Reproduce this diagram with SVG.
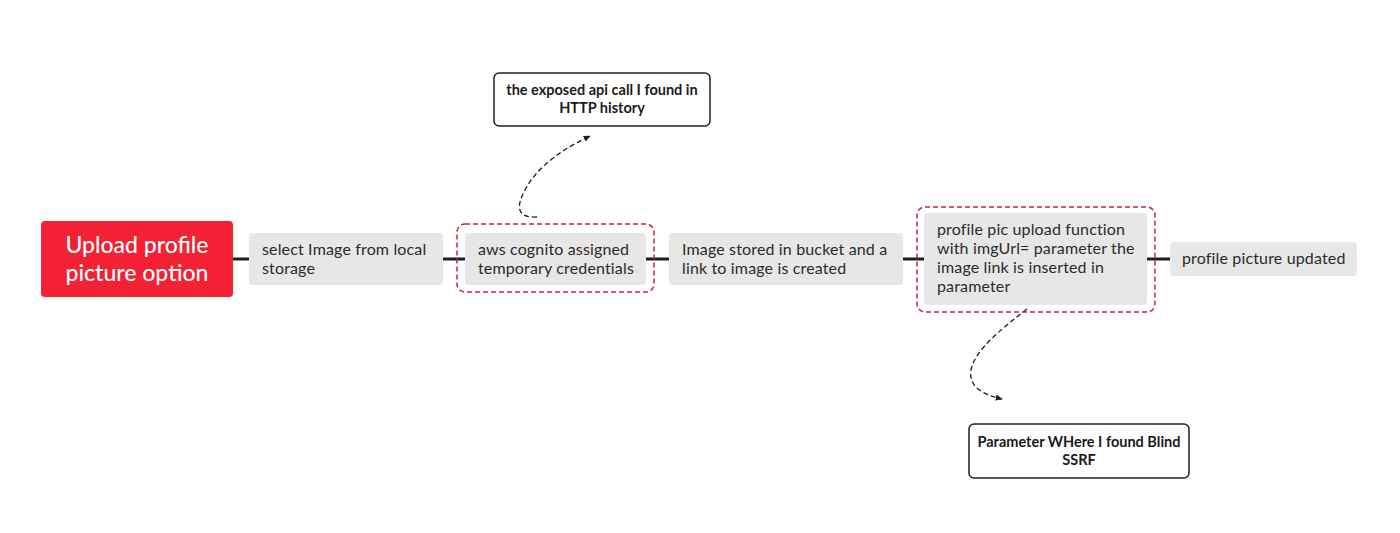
<svg xmlns="http://www.w3.org/2000/svg" width="1400" height="533" viewBox="0 0 1400 533">
<defs>
<style>
.gray{fill:#e7e7e7;}
.t{font-family:Lato,"Open Sans","Liberation Sans",sans-serif;font-size:16px;letter-spacing:0.15px;fill:#2b2b2b;}
.big{font-family:Lato,"Open Sans","Liberation Sans",sans-serif;font-size:23px;fill:#ffffff;font-weight:500;}
.call{font-family:Lato,"Open Sans","Liberation Sans",sans-serif;font-size:14.5px;fill:#1a1a1a;font-weight:bold;}
.dash{fill:none;stroke:#cc2336;stroke-width:1.5;stroke-dasharray:5 3;}
.cbox{fill:#ffffff;stroke:#222;stroke-width:1.5;}
.conn{stroke:#1e1e1e;stroke-width:3;fill:none;}
.arr{stroke:#1e1e1e;stroke-width:1.3;fill:none;stroke-dasharray:5 3;}
</style>
<marker id="ah" viewBox="0 0 10 10" refX="8" refY="5" markerWidth="6" markerHeight="6" orient="auto">
<path d="M0,1 L9,5 L0,9 Z" fill="#1e1e1e"/>
</marker>
</defs>
<rect width="1400" height="533" fill="#ffffff"/>
<g id="connectors">
<line class="conn" x1="233" y1="259" x2="249" y2="259"/>
<line class="conn" x1="443" y1="259" x2="465" y2="259"/>
<line class="conn" x1="646" y1="259" x2="669" y2="259"/>
<line class="conn" x1="903" y1="259" x2="924" y2="259"/>
<line class="conn" x1="1147" y1="259" x2="1170" y2="259"/>
<path class="arr" d="M537,217 C515,218 517,205 525,190 C538,165 565,148 590,136" marker-end="url(#ah)"/>
<path class="arr" d="M1027,309 C1000,330 975,350 971,370 C968,388 985,395 1002,399" marker-end="url(#ah)"/>
</g>
<g id="node-upload">
<rect x="41" y="221" width="192" height="76" rx="4" fill="#f32133"/>
<text class="big" x="137" y="253" text-anchor="middle">Upload profile</text>
<text class="big" x="137" y="281" text-anchor="middle">picture option</text>
</g>
<g id="node-select">
<rect class="gray" x="249" y="233" width="194" height="52" rx="4"/>
<text class="t" x="262" y="255">select Image from local</text>
<text class="t" x="262" y="274">storage</text>
</g>
<g id="node-cognito">
<rect class="dash" x="457" y="224" width="197" height="68" rx="8"/>
<rect class="gray" x="465" y="233" width="181" height="52" rx="4"/>
<text class="t" x="478" y="255">aws cognito assigned</text>
<text class="t" x="478" y="274">temporary credentials</text>
</g>
<g id="node-stored">
<rect class="gray" x="669" y="233" width="234" height="52" rx="4"/>
<text class="t" x="682" y="255">Image stored in bucket and a</text>
<text class="t" x="682" y="274">link to image is created</text>
</g>
<g id="node-function">
<rect class="dash" x="917" y="207" width="238" height="105" rx="8"/>
<rect class="gray" x="924" y="213" width="223" height="92" rx="4"/>
<text class="t" x="937" y="235">profile pic upload function</text>
<text class="t" x="937" y="254">with imgUrl= parameter the</text>
<text class="t" x="937" y="273">image link is inserted in</text>
<text class="t" x="937" y="292">parameter</text>
</g>
<g id="node-updated">
<rect class="gray" x="1170" y="242" width="187" height="34" rx="4"/>
<text class="t" x="1182" y="264">profile picture updated</text>
</g>
<g id="callout-api">
<rect class="cbox" x="494" y="73" width="216" height="53" rx="5"/>
<text class="call" x="602" y="95" text-anchor="middle">the exposed api call I found in</text>
<text class="call" x="602" y="113" text-anchor="middle">HTTP history</text>
</g>
<g id="callout-ssrf">
<rect class="cbox" x="969" y="424" width="220" height="54" rx="5"/>
<text class="call" x="1079" y="447" text-anchor="middle">Parameter WHere I found Blind</text>
<text class="call" x="1079" y="465" text-anchor="middle">SSRF</text>
</g>
</svg>
